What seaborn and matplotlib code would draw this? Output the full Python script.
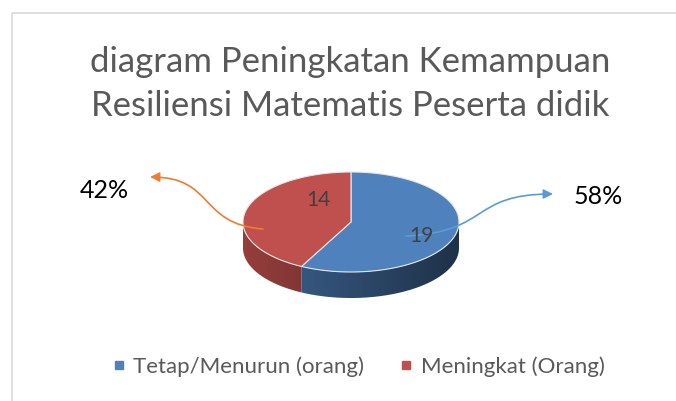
import numpy as np
import matplotlib.pyplot as plt
import seaborn as sns
from matplotlib.patches import Polygon, FancyArrowPatch
from matplotlib.path import Path
from matplotlib.lines import Line2D
import matplotlib.colors as mcolors

# data
categories = ['Tetap/Menurun (orang)', 'Meningkat (Orang)']
values = [19, 14]
pct_labels = ['58%', '42%']
colors = ['#4F81BD', '#C0504D']
arrow_colors = ['#5B9BD5', '#ED7D31']
title = 'diagram Peningkatan Kemampuan\nResiliensi Matematis Peserta didik'

sns.set_theme(style='white')
plt.rcParams['font.family'] = ['Lato', 'DejaVu Sans']

fig = plt.figure(figsize=(6.76, 4.01), dpi=100)
ax = fig.add_axes([0, 0, 1, 1])
ax.set_xlim(0, 676)
ax.set_ylim(401, 0)
ax.axis('off')

# chart border (only left / top visible in the crop)
ax.plot([11.5, 11.5, 676], [401, 12.5, 12.5], color='#D9D9D9', lw=1.2)

# pie geometry (pixels)
cx, cy, rx, ry, depth = 351, 222, 108, 50, 26


def pt(theta, dy=0.0):
    t = np.radians(theta)
    return cx + rx * np.sin(t), cy - ry * np.cos(t) + dy


fracs = np.array(values) / sum(values)
edges = np.concatenate([[0], np.cumsum(fracs) * 360])

# side walls, shaded darker toward the right
gx = np.linspace(cx - rx, cx + rx, 300)
for i, c in enumerate(colors):
    a0, a1 = max(edges[i], 90), min(edges[i + 1], 270)
    if a1 <= a0:
        continue
    base = np.array(mcolors.to_rgb(c))
    ts = np.linspace(a0, a1, 200)
    wall = [pt(t) for t in ts] + [pt(t, depth) for t in ts[::-1]]
    poly = Polygon(wall, closed=True, facecolor='none', edgecolor='none')
    ax.add_patch(poly)
    f = 0.58 - 0.2 * (gx - cx) / rx
    img = (base[None, :] * f[:, None])[None, :, :]
    im = ax.imshow(img, extent=(cx - rx, cx + rx, cy + ry + depth, cy - 5),
                   aspect='auto', interpolation='bilinear', zorder=1)
    im.set_clip_path(poly)
ax.set_xlim(0, 676)
ax.set_ylim(401, 0)

# top faces
for i, c in enumerate(colors):
    ts = np.linspace(edges[i], edges[i + 1], 200)
    verts = [(cx, cy)] + [pt(t) for t in ts]
    ax.add_patch(Polygon(verts, closed=True, facecolor=c,
                         edgecolor='#E8E8E8', lw=0.8, zorder=2))

# value labels
label_pos = [(421, 236), (318, 200)]
for (x, y), v in zip(label_pos, values):
    ax.text(x, y, str(v), ha='center', va='center', fontsize=15,
            color='#404040', zorder=4)

# curved leader arrows with percentages
arrow_paths = [
    [(406, 236), (490, 232), (470, 194), (553, 194)],
    [(263, 229), (198, 224), (215, 177), (150, 177)],
]
pct_pos = [(598, 196), (104, 190)]
for verts, col, (x, y), p in zip(arrow_paths, arrow_colors, pct_pos, pct_labels):
    path = Path(verts, [Path.MOVETO, Path.CURVE4, Path.CURVE4, Path.CURVE4])
    ax.add_patch(FancyArrowPatch(path=path, arrowstyle='-|>', color=col,
                                 lw=1.2, mutation_scale=14, zorder=3))
    ax.text(x, y, p, ha='center', va='center', fontsize=18, color='black')

ax.text(350, 84, title, ha='center', va='center', fontsize=25,
        color='#595959', linespacing=1.48)

handles = [Line2D([], [], marker='s', linestyle='', color=c, markersize=6)
           for c in colors]
ax.legend(handles, categories, loc='center', bbox_to_anchor=(0.53, 0.085),
          ncol=2, frameon=False, fontsize=16, handlelength=0.6,
          handletextpad=0.35, columnspacing=1.6, labelcolor='#595959')

fig.savefig('out.png', dpi=100, facecolor='white')
